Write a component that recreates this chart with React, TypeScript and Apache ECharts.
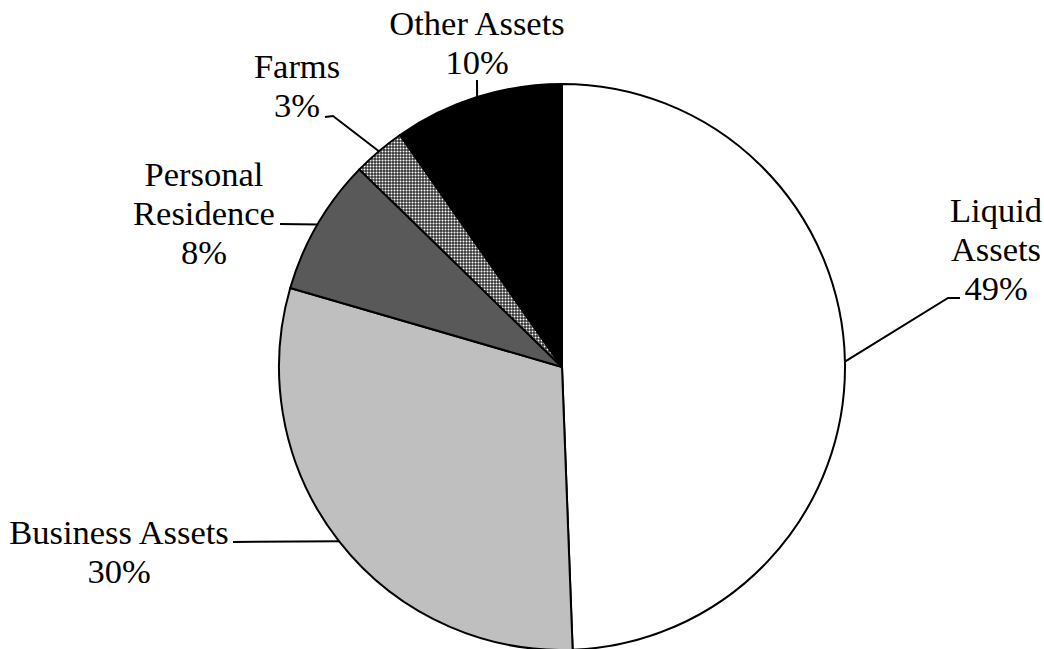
import React, { useEffect, useRef } from "react";
import * as echarts from "echarts";

const categories = ["Liquid Assets", "Business Assets", "Personal Residence", "Farms", "Other Assets"];
const values = [49.4, 30.1, 7.8, 3.0, 9.7];
const labelTexts = ["Liquid\nAssets", "Business Assets", "Personal\nResidence", "Farms", "Other Assets"];

// label placement (layout only): text block centre and leader-line points after the slice anchor
const labelPlacement = [
  { x: 996, y: 249, line: [[948, 298], [960, 298]] },
  { x: 119, y: 551, line: [[233, 542]] },
  { x: 204, y: 213, line: [[280, 224]] },
  { x: 297, y: 85, line: [[333, 116], [325, 117]] },
  { x: 477, y: 42, line: [[477, 80]] },
];

function makePattern(): HTMLCanvasElement {
  const c = document.createElement("canvas");
  c.width = 3;
  c.height = 3;
  const ctx = c.getContext("2d")!;
  const tile = [
    ["#444444", "#8a8a8a", "#444444"],
    ["#8a8a8a", "#ffffff", "#8a8a8a"],
    ["#444444", "#8a8a8a", "#444444"],
  ];
  for (let y = 0; y < 3; y++) {
    for (let x = 0; x < 3; x++) {
      ctx.fillStyle = tile[y][x];
      ctx.fillRect(x, y, 1, 1);
    }
  }
  return c;
}

export default function App() {
  const ref = useRef<HTMLDivElement>(null);
  useEffect(() => {
    if (!ref.current) return;
    const chart = echarts.init(ref.current, undefined, { renderer: "svg" });
    const pattern = makePattern();
    const colors: any[] = [
      "#ffffff",
      "#bfbfbf",
      "#595959",
      { image: pattern.toDataURL(), repeat: "repeat", imageWidth: 3, imageHeight: 3 },
      "#000000",
    ];
    chart.setOption({
      animation: false,
      backgroundColor: "#ffffff",
      series: [
        {
          type: "pie",
          center: [562, 367],
          radius: 283,
          startAngle: 90,
          clockwise: true,
          avoidLabelOverlap: false,
          emphasis: { disabled: true },
          data: categories.map((name, i) => ({
            name,
            value: values[i],
            itemStyle: { color: colors[i] },
          })),
          itemStyle: { borderColor: "#000000", borderWidth: 2 },
          label: {
            show: true,
            position: "outside",
            color: "#000000",
            fontFamily: "Liberation Serif",
            fontSize: 34.5,
            lineHeight: 39,
            formatter: (p: any) => `${labelTexts[p.dataIndex]}\n${Math.round(p.percent)}%`,
          },
          labelLine: {
            show: true,
            smooth: false,
            length: 20,
            length2: 20,
            lineStyle: { color: "#000000", width: 2 },
          },
          labelLayout: (params: any) => {
            const L = labelPlacement[params.dataIndex];
            const p0 = params.labelLinePoints && params.labelLinePoints[0];
            const res: any = { x: L.x, y: L.y, align: "center", verticalAlign: "middle" };
            if (p0) {
              const pts = [[p0[0], p0[1]], ...L.line];
              while (pts.length < 3) pts.push(pts[pts.length - 1]);
              res.labelLinePoints = pts;
            }
            return res;
          },
        },
      ],
    });
    return () => chart.dispose();
  }, []);
  return (
    <div
      ref={ref}
      style={{ position: "fixed", left: 0, top: 0, width: 1044, height: 649 }}
    />
  );
}
